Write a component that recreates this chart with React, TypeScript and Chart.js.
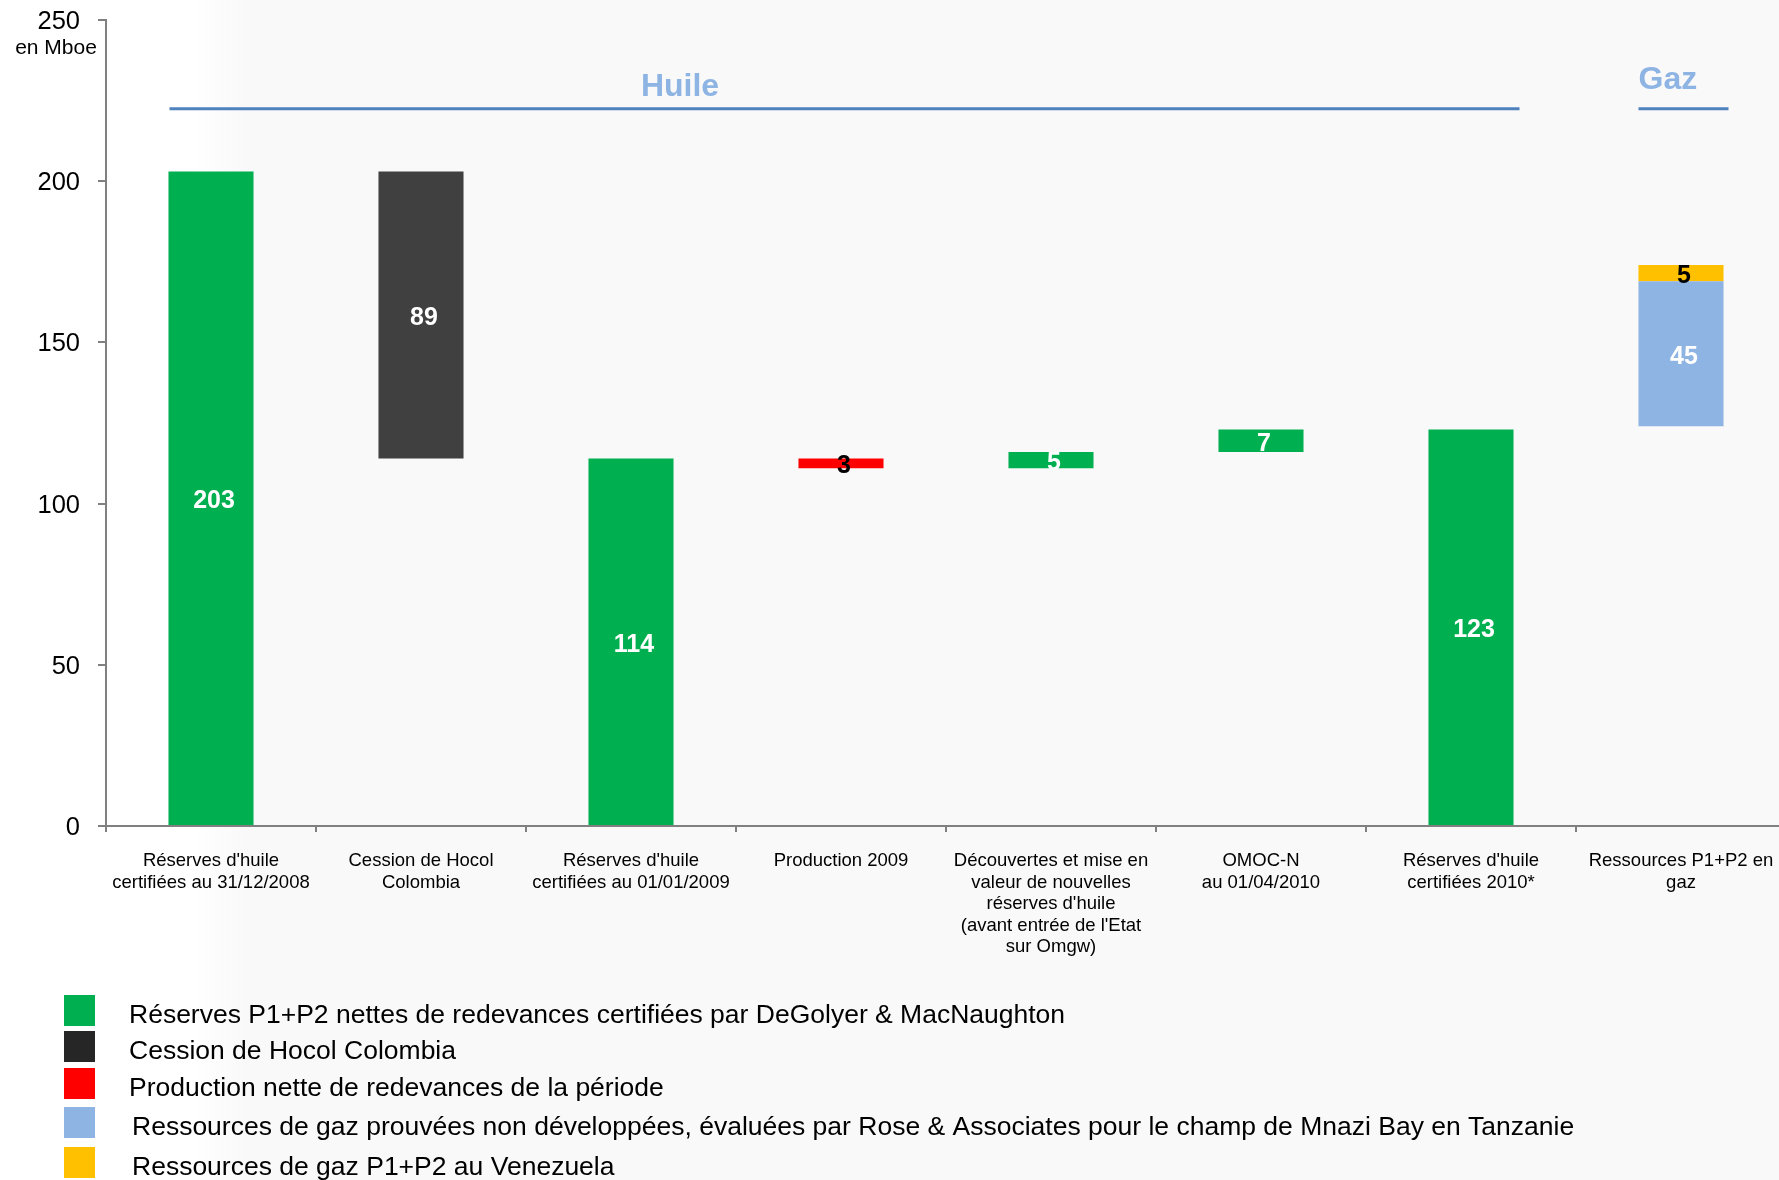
import React, { useEffect, useRef } from "react";
import { Chart, registerables } from "chart.js";

Chart.register(...registerables);

const FONT = '"Liberation Sans", Arial, Helvetica, sans-serif';

const categories: string[][] = [
  ["Réserves d'huile", "certifiées au 31/12/2008"],
  ["Cession de Hocol", "Colombia"],
  ["Réserves d'huile", "certifiées au 01/01/2009"],
  ["Production 2009"],
  ["Découvertes et mise en", "valeur de nouvelles", "réserves d'huile", "(avant entrée de l'Etat", "sur Omgw)"],
  ["OMOC-N", "au 01/04/2010"],
  ["Réserves d'huile", "certifiées 2010*"],
  ["Ressources P1+P2 en", "gaz"],
];

// floating bars [low, high] in Mboe
const reservesRanges = [[0, 203], null, [0, 114], null, [111, 116], [116, 123], [0, 123], null];
const cessionRanges = [null, [114, 203], null, null, null, null, null, null];
const productionRanges = [null, null, null, [111, 114], null, null, null, null];
const gasTanzaniaRanges = [null, null, null, null, null, null, null, [124, 169]];
const gasVenezuelaRanges = [null, null, null, null, null, null, null, [169, 174]];

const legendLabels = [
  "Réserves P1+P2 nettes de redevances certifiées par DeGolyer & MacNaughton",
  "Cession de Hocol Colombia",
  "Production nette de redevances de la période",
  "Ressources de gaz prouvées non développées, évaluées par Rose & Associates pour le champ de Mnazi Bay en Tanzanie",
  "Ressources de gaz P1+P2 au Venezuela",
];
const barColors = ["#00B050", "#404040", "#FF0000", "#8EB4E3", "#FFC000"];
const legendColors = ["#00B050", "#262626", "#FF0000", "#8EB4E3", "#FFC000"];
const labelColors = ["#FFFFFF", "#FFFFFF", "#000000", "#FFFFFF", "#000000"];

const yTicks = [0, 50, 100, 150, 200, 250];

const backgroundPlugin = {
  id: "bgPlugin",
  beforeDraw(chart: any) {
    const { ctx, width, height } = chart;
    ctx.save();
    ctx.fillStyle = "#FFFFFF";
    ctx.fillRect(0, 0, width, height);
    const g = ctx.createLinearGradient(195, 0, 245, 0);
    g.addColorStop(0, "rgba(249,249,249,0)");
    g.addColorStop(1, "rgba(249,249,249,1)");
    ctx.fillStyle = g;
    ctx.fillRect(195, 0, width - 195, height);
    ctx.restore();
  },
};

const valueLabelPlugin = {
  id: "valueLabels",
  afterDatasetsDraw(chart: any) {
    const { ctx } = chart;
    ctx.save();
    ctx.font = `bold 25px ${FONT}`;
    ctx.textAlign = "center";
    ctx.textBaseline = "middle";
    chart.data.datasets.forEach((ds: any, di: number) => {
      const meta = chart.getDatasetMeta(di);
      meta.data.forEach((el: any, i: number) => {
        const v = ds.data[i];
        if (!v) return;
        const txt = String(v[1] - v[0]);
        ctx.fillStyle = labelColors[di];
        ctx.fillText(txt, el.x + 3, (el.y + el.base) / 2 + 3);
      });
    });
    ctx.restore();
  },
};

const annotationPlugin = {
  id: "annotations",
  afterDraw(chart: any) {
    const { ctx } = chart;
    const xs = chart.scales.x;
    const ys = chart.scales.y;
    ctx.save();
    // unit label
    ctx.fillStyle = "#000";
    ctx.font = `21px ${FONT}`;
    ctx.textAlign = "center";
    ctx.textBaseline = "alphabetic";
    ctx.fillText("en Mboe", 56, 54);

    // section headers
    const half = 42.5;
    const lineY = ys.getPixelForValue(222.5);
    ctx.strokeStyle = "#4F81BD";
    ctx.lineWidth = 3;
    const hx0 = xs.getPixelForValue(0) - half + 1;
    const hx1 = xs.getPixelForValue(6) + half + 6;
    const gx0 = xs.getPixelForValue(7) - half;
    const gx1 = xs.getPixelForValue(7) + half + 5;
    ctx.beginPath();
    ctx.moveTo(hx0, lineY);
    ctx.lineTo(hx1, lineY);
    ctx.moveTo(gx0, lineY);
    ctx.lineTo(gx1, lineY);
    ctx.stroke();

    ctx.fillStyle = "#8EB4E3";
    ctx.font = `bold 32px ${FONT}`;
    ctx.textAlign = "center";
    ctx.fillText("Huile", 680, 96);
    ctx.textAlign = "left";
    ctx.fillText("Gaz", gx0, 89);

    // legend
    const sqY = [995, 1031, 1068, 1107, 1147];
    const txX = [129, 129, 129, 132, 132];
    ctx.font = `26.5px ${FONT}`;
    ctx.textBaseline = "middle";
    legendLabels.forEach((lbl, i) => {
      ctx.fillStyle = legendColors[i];
      ctx.fillRect(64, sqY[i], 31, 31);
      ctx.fillStyle = "#000";
      ctx.fillText(lbl, txX[i], sqY[i] + 21);
    });
    ctx.restore();
  },
};

export default function App() {
  const ref = useRef<HTMLCanvasElement | null>(null);
  useEffect(() => {
    if (!ref.current) return;
    const series = [reservesRanges, cessionRanges, productionRanges, gasTanzaniaRanges, gasVenezuelaRanges];
    const chart = new Chart(ref.current, {
      type: "bar",
      data: {
        labels: categories as any,
        datasets: series.map((d, i) => ({
          label: legendLabels[i],
          data: d as any,
          backgroundColor: barColors[i],
          borderWidth: 0,
          grouped: false,
          barPercentage: 0.405,
          categoryPercentage: 1,
        })),
      },
      options: {
        animation: false,
        responsive: false,
        devicePixelRatio: 1,
        layout: { padding: { top: 20, right: 4, left: 0, bottom: 0 } },
        plugins: { legend: { display: false }, tooltip: { enabled: false } },
        scales: {
          x: {
            offset: true,
            afterFit: (s: any) => {
              s.height = 354;
              s.paddingLeft = 0;
              s.paddingRight = 0;
            },
            grid: {
              offset: true,
              drawOnChartArea: false,
              drawTicks: true,
              tickLength: 6,
              color: "#808080",
              lineWidth: 2,
            },
            border: { color: "#808080", width: 2 },
            ticks: {
              autoSkip: false,
              maxRotation: 0,
              minRotation: 0,
              padding: 18,
              color: "#000",
              font: { family: FONT, size: 18.5, lineHeight: 1.17 },
            },
          },
          y: {
            min: 0,
            max: 250,
            afterFit: (s: any) => {
              s.width = 106;
              s.paddingTop = 0;
              s.paddingBottom = 0;
            },
            afterBuildTicks: (s: any) => {
              s.ticks = yTicks.map((v) => ({ value: v }));
            },
            grid: {
              drawOnChartArea: false,
              drawTicks: true,
              tickLength: 8,
              color: "#808080",
              lineWidth: 2,
            },
            border: { color: "#808080", width: 2 },
            ticks: {
              padding: 18,
              labelOffset: 2,
              color: "#000",
              font: { family: FONT, size: 25.5 },
            },
          },
        },
      },
      plugins: [backgroundPlugin, valueLabelPlugin, annotationPlugin],
    });
    return () => chart.destroy();
  }, []);
  return (
    <div style={{ position: "fixed", left: 0, top: 0, width: 1779, height: 1180, overflow: "hidden", background: "#fff" }}>
      <canvas ref={ref} width={1790} height={1180} style={{ width: 1790, height: 1180, display: "block" }} />
    </div>
  );
}
